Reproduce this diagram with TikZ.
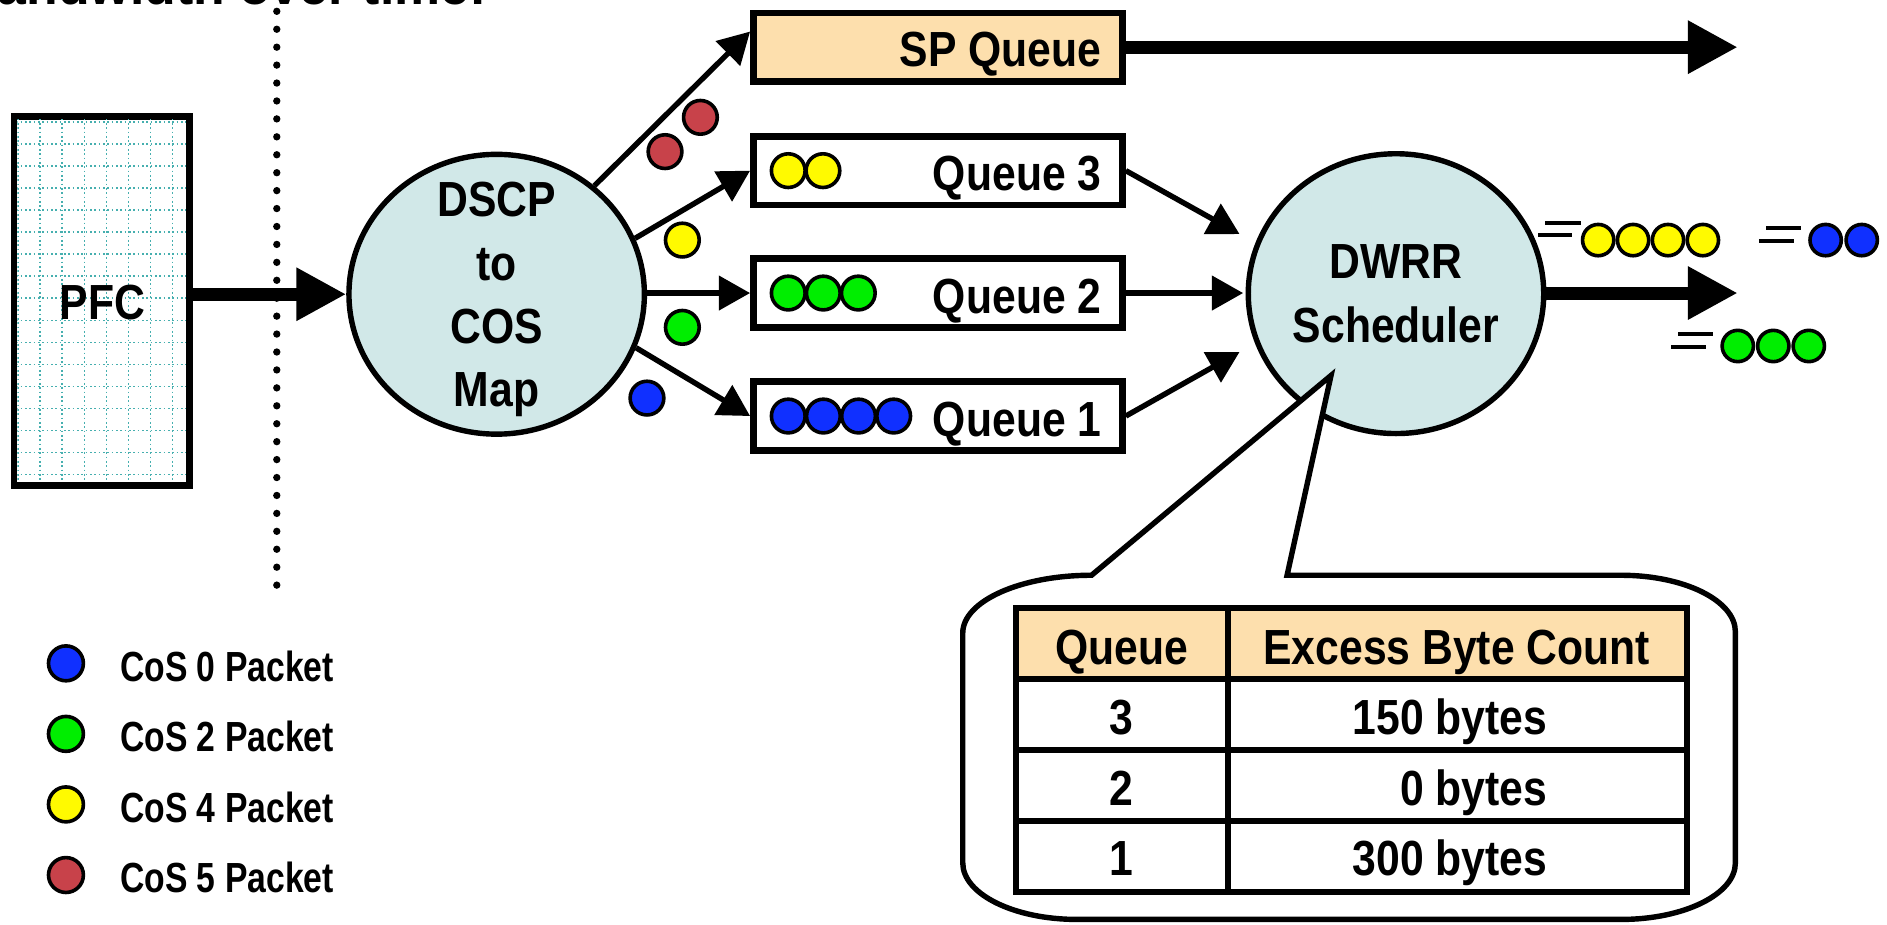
\documentclass[tikz,border=0pt]{standalone}
\usepackage{fontspec}
\usetikzlibrary{arrows.meta,calc,shapes.geometric}
\newfontfamily\nar[FakeStretch=0.865]{Liberation Sans Bold}
\newfontfamily\narleg[FakeStretch=0.8]{Liberation Sans Bold}
\newfontfamily\ttlfont{Liberation Sans Bold}
\definecolor{pktblue}{RGB}{16,48,255}
\definecolor{pktgreen}{RGB}{0,238,0}
\definecolor{pktyellow}{RGB}{255,250,0}
\definecolor{pktred}{RGB}{200,66,74}
\definecolor{mapfill}{RGB}{209,232,232}
\definecolor{peach}{RGB}{253,223,173}
\definecolor{gridteal}{RGB}{70,175,175}
\begin{document}
\begin{tikzpicture}[x=1pt,y=-1pt,
  maintxt/.style={font=\nar\fontsize{41}{52.7}\selectfont, inner sep=0pt},
  legtxt/.style={font=\narleg\fontsize{35}{40}\selectfont, inner sep=0pt},
  qbox/.style={draw, line width=5.5pt, rectangle, minimum width=306.7pt, minimum height=57pt, inner sep=0pt},
  ell/.style={ellipse, draw, line width=4.5pt, fill=mapfill, minimum width=245.5pt, minimum height=232.5pt, inner sep=0pt},
  pkt/.style={circle, draw, line width=3pt, minimum size=28pt, inner sep=0pt},
  bigarrow/.style={line width=10.8pt, -{Triangle[length=41.5pt,width=41.5pt]}},
  smallarrow/.style={line width=4.5pt, -{Triangle[length=26pt,width=28pt]}},
  cell/.style={draw, line width=5pt, rectangle, inner sep=0pt, minimum height=59pt},
  speed/.style={line width=3.3pt},
  gridline/.style={gridteal, line width=1.4pt, dash pattern=on 1.4pt off 2.2pt},
  bubble/.style={draw, fill=white, line width=4.5pt, line join=miter}
]
\useasboundingbox (0,0) rectangle (1568,768);

% heading text running off the top edge
\node[anchor=base west, inner sep=0pt, font=\ttlfont\fontsize{43}{50}\selectfont] (ttl) at (-2,4) {andwidth over time:};

% dotted separator
\foreach \k in {0,...,32} \fill ({230},{9.4+14.9*\k}) circle (3.05pt);

% PFC block with dotted grid
\node[draw, line width=5.5pt, minimum width=145.5pt, minimum height=306.5pt, inner sep=0pt] (pfc) at (84.5,250) {};
\begin{scope}
  \clip ($(pfc.south west)+(5.5,-5.5)$) rectangle ($(pfc.north east)+(-5.5,5.5)$);
  \foreach \k in {0,...,7} \draw[gridline] ({15.2+18.3*\k},95) -- ({15.2+18.3*\k},405);
  \foreach \k in {0,...,16} \draw[gridline] (10,{101.5+18.3*\k}) -- (160,{101.5+18.3*\k});
\end{scope}
\node[maintxt] (pfct) at (85,251.5) {PFC};

% classifier and scheduler
\node[ell] (dscp) at (412.7,244.5) {};
\node[maintxt, align=center] (dscpt) at (412.7,249) {DSCP\\to\\COS\\Map};
\node[ell] (dwrr) at (1160,244) {};
\node[maintxt, align=center] (dwrrt) at (1160,244) {DWRR\\Scheduler};

% queues
\node[qbox, fill=peach] (sp) at (779.4,39.2) {};
\node[qbox] (q3) at (779.4,141.8) {};
\node[qbox] (q2) at (779.4,243.5) {};
\node[qbox] (q1) at (779.4,345.7) {};
\node[maintxt, anchor=base east] (spt) at ($(sp.east)+(-20.1,16.2)$) {SP Queue};
\node[maintxt, anchor=base east] (q3t) at ($(q3.east)+(-20.1,16.9)$) {Queue 3};
\node[maintxt, anchor=base east] (q2t) at ($(q2.east)+(-20.1,16.9)$) {Queue 2};
\node[maintxt, anchor=base east] (q1t) at ($(q1.east)+(-20.1,16.9)$) {Queue 1};

% packets waiting in the queues
\foreach \i in {0,1} \node[pkt, fill=pktyellow] (q3p\i) at ({655+28.8*\i},141.8) {};
\foreach \i in {0,1,2} \node[pkt, fill=pktgreen] (q2p\i) at ({655+29.1*\i},243.5) {};
\foreach \i in {0,1,2,3} \node[pkt, fill=pktblue] (q1p\i) at ({655+29.2*\i},345.7) {};

% packets leaving the classifier
\node[pkt, fill=pktred] (r1) at (582,97.5) {};
\node[pkt, fill=pktred] (r2) at (552.6,126) {};
\node[pkt, fill=pktyellow] (y1) at (567,199.5) {};
\node[pkt, fill=pktgreen] (g1) at (567,272) {};
\node[pkt, fill=pktblue] (b1) at (537.6,330.8) {};

% main flow
\draw[bigarrow] (pfc.east |- dscp.west) -- (dscp.west);
\coordinate (spin) at ($(sp.west)+(0,-13)$);
\draw[smallarrow] (dscp.48) -- (spin);
\draw[smallarrow] (dscp.22) -- (q3.west);
\draw[smallarrow] (dscp.east |- q2.west) -- (q2.west);
\draw[smallarrow] (dscp.-21) -- (q1.west);

\coordinate (in3) at (1030,194.5);
\coordinate (in2) at (1033,243.5);
\coordinate (in1) at (1030,292.5);
\draw[smallarrow] (q3.east) -- (in3);
\draw[smallarrow] (q2.east) -- (in2);
\draw[smallarrow] (q1.east) -- (in1);

\coordinate (sptip) at (1444,39.2);
\draw[bigarrow] (sp.east) -- (sptip);
\coordinate (outtip) at (1444,243.5);
\draw[bigarrow] (dwrr.east |- outtip) -- (outtip);

% departing packets
\foreach \i in {0,...,3} \node[pkt, minimum size=26pt, fill=pktyellow] (oy\i) at ({1328+29*\i},199.5) {};
\draw[speed] ($(oy0)+(-43.8,-14.4)$) -- ($(oy0)+(-14.7,-14.4)$);
\draw[speed] ($(oy0)+(-50,-4.2)$) -- ($(oy0)+(-21.6,-4.2)$);
\foreach \i in {0,1} \node[pkt, minimum size=26pt, fill=pktblue] (ob\i) at ({1517+30*\i},199.5) {};
\draw[speed] ($(ob0)+(-49.3,-9.7)$) -- ($(ob0)+(-20.2,-9.7)$);
\draw[speed] ($(ob0)+(-55.4,0.5)$) -- ($(ob0)+(-26.6,0.5)$);
\foreach \i in {0,1,2} \node[pkt, minimum size=26pt, fill=pktgreen] (og\i) at ({1444+29.5*\i},287.5) {};
\draw[speed] ($(og0)+(-49.3,-9.7)$) -- ($(og0)+(-20.2,-9.7)$);
\draw[speed] ($(og0)+(-55.4,0.5)$) -- ($(og0)+(-26.6,0.5)$);

% callout with the deficit table
\coordinate (bl) at (907,478);
\coordinate (btip) at (1106,312);
\coordinate (br) at (1069.5,478);
\path[bubble] (bl) -- (btip) -- (br) -- (1347,478)
  .. controls (1399.4,478) and (1442,499) .. (1442,525) -- (1442,717)
  .. controls (1442,743) and (1399.4,764) .. (1347,764) -- (895,764)
  .. controls (842.6,764) and (800,743) .. (800,717) -- (800,526)
  .. controls (800,499.5) and (848,478) .. (bl) -- cycle;

\node[cell, fill=peach, minimum width=176pt] (h1) at (932,534.5) {};
\node[cell, fill=peach, minimum width=382pt] (h2) at (1211,534.5) {};
\node[cell, minimum width=176pt] (a1) at (932,593.5) {};
\node[cell, minimum width=382pt] (a2) at (1211,593.5) {};
\node[cell, minimum width=176pt] (b1c) at (932,652.5) {};
\node[cell, minimum width=382pt] (b2c) at (1211,652.5) {};
\node[cell, minimum width=176pt] (c1) at (932,711.5) {};
\node[cell, minimum width=382pt] (c2) at (1211,711.5) {};

\node[maintxt, anchor=base] (th1) at (932,552.4) {Queue};
\node[maintxt, anchor=base] (th2) at (1210.5,552.4) {Excess Byte Count};
\node[maintxt, anchor=base] (ta1) at (932,610.4) {3};
\node[maintxt, anchor=base east] (ta2) at (1286,610.4) {150 bytes};
\node[maintxt, anchor=base] (tb1) at (932,669.4) {2};
\node[maintxt, anchor=base east] (tb2) at (1286,669.4) {0 bytes};
\node[maintxt, anchor=base] (tc1) at (932,727.4) {1};
\node[maintxt, anchor=base east] (tc2) at (1286,727.4) {300 bytes};

% legend
\node[pkt, minimum size=29pt, fill=pktblue] (leg0) at (54.8,551.2) {};
\node[pkt, minimum size=29pt, fill=pktgreen] (leg1) at (54.8,609.8) {};
\node[pkt, minimum size=29pt, fill=pktyellow] (leg2) at (54.8,668.4) {};
\node[pkt, minimum size=29pt, fill=pktred] (leg3) at (54.8,727.1) {};
\node[legtxt, anchor=base west] (legt0) at (99.7,565.9) {CoS 0 Packet};
\node[legtxt, anchor=base west] (legt1) at (99.7,624.5) {CoS 2 Packet};
\node[legtxt, anchor=base west] (legt2) at (99.7,683.1) {CoS 4 Packet};
\node[legtxt, anchor=base west] (legt3) at (99.7,741.8) {CoS 5 Packet};
\end{tikzpicture}
\end{document}
